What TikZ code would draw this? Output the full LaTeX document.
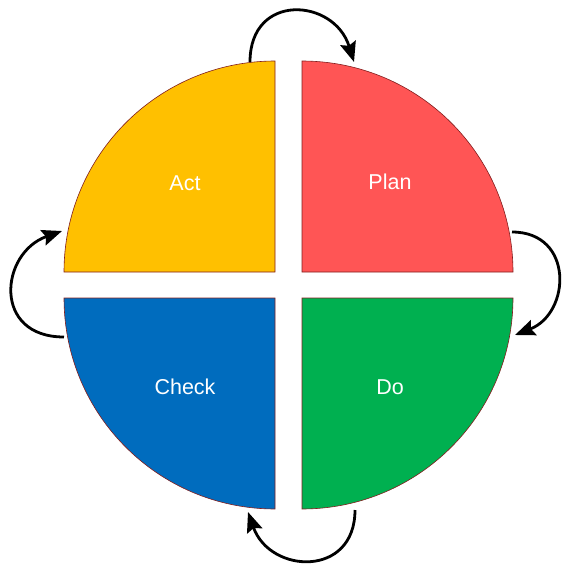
\documentclass[tikz,border=0pt]{standalone}
\usepackage{fontspec}
\setmainfont{Liberation Sans}
\usetikzlibrary{arrows.meta}
\definecolor{actfill}{RGB}{255,192,0}
\definecolor{planfill}{RGB}{255,85,85}
\definecolor{checkfill}{RGB}{0,108,190}
\definecolor{dofill}{RGB}{0,176,80}
\definecolor{rimline}{RGB}{130,30,30}

\begin{document}
\begin{tikzpicture}[x=1pt, y=1pt, yscale=-1, inner sep=0pt, outer sep=0pt,
  quarter/.style={draw=rimline, line width=0.6pt, line join=miter},
  quartertext/.style={text=white, font=\fontsize{21.5}{25}\selectfont},
  turn/.style={draw=black, line width=2.8pt, line cap=butt,
    -{Stealth[length=20pt, width=16pt, inset=3pt]}}]
  \useasboundingbox (0,0) rectangle (562,567);
  % four quarters
  \path[quarter, fill=actfill]
    (275,272) -- (64,272) arc[start angle=180, end angle=270, radius=211] -- cycle;
  \path[quarter, fill=planfill]
    (302,272) -- (302,61) arc[start angle=270, end angle=360, radius=211] -- cycle;
  \path[quarter, fill=checkfill]
    (275,298) -- (64,298) arc[start angle=180, end angle=90, radius=211] -- cycle;
  \path[quarter, fill=dofill]
    (302,298) -- (513,298) arc[start angle=0, end angle=90, radius=211] -- cycle;
  % labels
  \path (185,183) node[quartertext] (textact) {Act};
  \path (390,182) node[quartertext] (textplan) {Plan};
  \path (185,387) node[quartertext] (textcheck) {Check};
  \path (390,387) node[quartertext] (textdo) {Do};
  % arrow ends on the rim
  \coordinate (acttop) at (250,62);
  \coordinate (plantop) at (354,62);
  \coordinate (planside) at (512,232);
  \coordinate (doside) at (515,335);
  \coordinate (dobottom) at (355,510);
  \coordinate (checkbottom) at (248,512);
  \coordinate (checkside) at (64,337);
  \coordinate (actside) at (62,231);
  % cycle arrows
  \path[turn] (acttop) .. controls +(0,-70) and +(-20,-64) .. (plantop);
  \path[turn] (planside) .. controls +(62,0) and +(56,-22) .. (doside);
  \path[turn] (dobottom) .. controls +(0,68) and +(22,62) .. (checkbottom);
  \path[turn] (checkside) .. controls +(-72,0) and +(-62,22) .. (actside);
\end{tikzpicture}
\end{document}
